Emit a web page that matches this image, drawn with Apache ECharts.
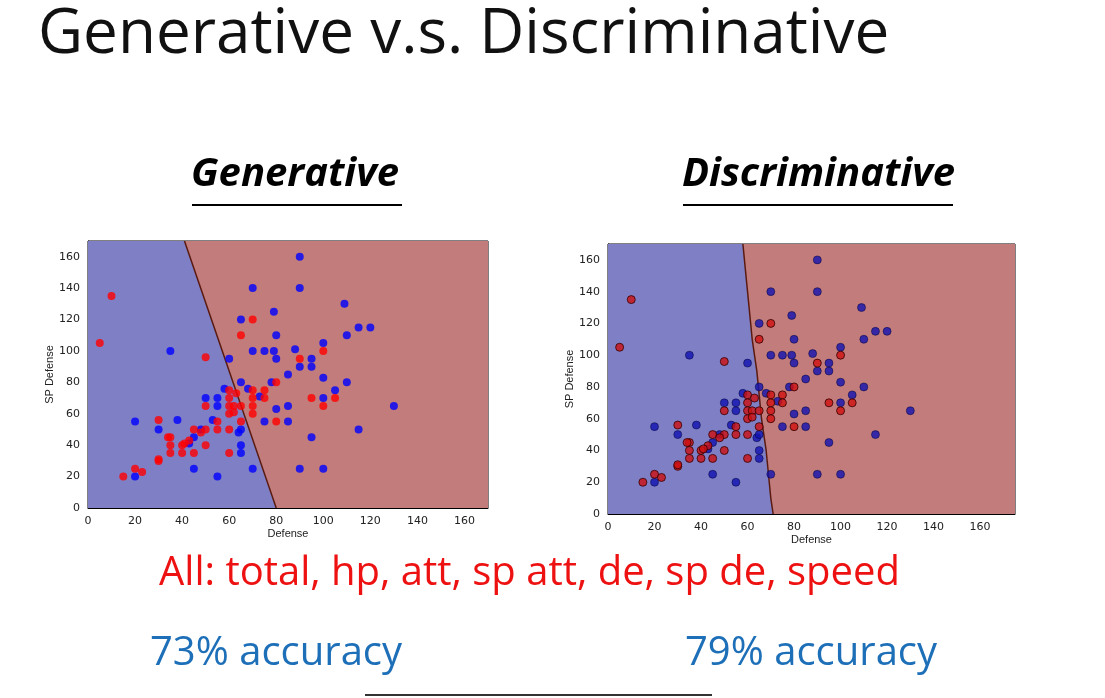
<!DOCTYPE html>
<html><head><meta charset="utf-8">
<script src="https://cdn.jsdelivr.net/npm/echarts@6/dist/echarts.min.js"></script>
<style>html,body{margin:0;background:#fff}#c{width:1105px;height:698px}</style>
</head><body><div id="c"></div>
<script>
// points [Defense, SP Defense]
var bluePts = [[90,160],[90,140],[70,140],[79,125],[65,120],[80,110],[109,130],[110,110],[115,115],[120,115],[100,105],[35,100],[70,100],[75,100],[79,100],[88,101],[80,95],[60,95],[90,90],[95,95],[95,90],[85,85],[100,83],[110,80],[105,75],[65,80],[78,80],[58,76],[68,76],[73,71],[50,70],[55,70],[100,70],[55,65],[85,65],[130,65],[80,63],[20,55],[38,56],[53,56],[75,55],[85,55],[30,50],[48,50],[64,48],[65,50],[115,50],[45,45],[43,41],[65,40],[95,45],[65,35],[45,25],[70,25],[90,25],[100,25],[20,20],[55,20]];
var redPts = [[10,135],[5,105],[65,110],[70,120],[50,96],[100,100],[90,95],[80,80],[60,75],[63,73],[70,75],[75,75],[75,70],[95,70],[105,70],[60,70],[70,70],[50,65],[60,65],[62,65],[65,65],[70,65],[100,65],[60,60],[62,61],[70,60],[30,56],[55,55],[65,55],[80,55],[55,50],[60,50],[45,50],[50,50],[48,48],[35,45],[34,45],[43,43],[40,40],[41,41],[35,40],[50,40],[35,35],[40,35],[45,35],[60,35],[30,30],[30,31],[20,25],[23,23],[15,20]];
// decision boundaries, from top (y=170) to bottom (y=0)
var genBoundary = [[41,170],[80,0]];
var disBoundary = [[58,170],[60,140],[62,110],[64,90],[65,75],[66,60],[67,50],[68,40],[69,25],[70,10],[71,0]];

function regions(boundary, xmax, gi) {
  var left = [[0,170]].concat(boundary).concat([[0,0]]);
  var right = boundary.slice().concat([[xmax,0],[xmax,170]]);
  function poly(pts, color) {
    return {type:'custom', xAxisIndex:gi, yAxisIndex:gi, silent:true, z:1,
      data:[0], renderItem:function(p, api){
        return {type:'polygon', shape:{points:pts.map(function(d){return api.coord(d);})},
          style:{fill:color}};
      }};
  }
  return [poly(left,'#7f7fc6'), poly(right,'#c27c7b'),
    {type:'line', xAxisIndex:gi, yAxisIndex:gi, data:boundary, symbol:'none', z:2,
     lineStyle:{color:'#5a1a10', width:1.5}}];
}
function axes(gi, xmax) {
  var lab = {fontSize:11, color:'#222', fontFamily:'DejaVu Sans', showMaxLabel:false};
  return {
    x:{gridIndex:gi, min:0, max:xmax, interval:20, name:'Defense', nameLocation:'middle', nameGap:20,
       nameTextStyle:{fontSize:11,color:'#222'}, axisLabel:lab, splitLine:{show:false},
       axisLine:{onZero:false,lineStyle:{color:'#000'}}, axisTick:{inside:true,lineStyle:{color:'#000'}}},
    y:{gridIndex:gi, min:0, max:170, interval:20, name:'SP Defense', nameLocation:'middle', nameGap:30,
       nameTextStyle:{fontSize:11,color:'#222'}, axisLabel:lab, splitLine:{show:false},
       axisLine:{lineStyle:{color:'#000'}}, axisTick:{inside:true,lineStyle:{color:'#000'}}}
  };
}
var a0 = axes(0,170), a1 = axes(1,175);
var chart = echarts.init(document.getElementById('c'));
chart.setOption({
  animation:false,
  grid:[{left:88, top:241, width:400, height:267, show:true, borderColor:'#000', borderWidth:1},
        {left:608, top:244, width:407, height:270, show:true, borderColor:'#000', borderWidth:1}],
  xAxis:[a0.x, a1.x], yAxis:[a0.y, a1.y],
  series: regions(genBoundary,170,0).concat(regions(disBoundary,175,1)).concat([
    {type:'scatter', xAxisIndex:0, yAxisIndex:0, data:bluePts, symbolSize:8, z:3, itemStyle:{color:'#0000ff'}},
    {type:'scatter', xAxisIndex:0, yAxisIndex:0, data:redPts, symbolSize:8, z:3, itemStyle:{color:'#ff0000'}},
    {type:'scatter', xAxisIndex:1, yAxisIndex:1, data:bluePts, symbolSize:8, z:3, itemStyle:{color:'#1212b0',borderColor:'#000033',borderWidth:0.6}},
    {type:'scatter', xAxisIndex:1, yAxisIndex:1, data:redPts, symbolSize:8, z:3, itemStyle:{color:'#d01010',borderColor:'#330000',borderWidth:1}}
  ]),
  graphic:[
    {type:'text', left:38, top:4, style:{text:'Generative v.s. Discriminative', font:'62px "Open Sans"', fill:'#111'}},
    {type:'text', left:191, top:155, style:{text:'Generative', font:'italic bold 40px "Open Sans"', fill:'#000'}},
    {type:'rect', shape:{x:192,y:204,width:210,height:2}, style:{fill:'#000'}},
    {type:'text', left:682, top:155, style:{text:'Discriminative', font:'italic bold 40px "Open Sans"', fill:'#000'}},
    {type:'rect', shape:{x:683,y:204,width:270,height:2}, style:{fill:'#000'}},
    {type:'text', left:159, top:554, style:{text:'All: total, hp, att, sp att, de, sp de, speed', font:'40px "Open Sans"', fill:'#ee1111'}},
    {type:'text', left:150, top:634, style:{text:'73% accuracy', font:'40px "Open Sans"', fill:'#1d6fb8'}},
    {type:'text', left:685, top:634, style:{text:'79% accuracy', font:'40px "Open Sans"', fill:'#1d6fb8'}},
    {type:'rect', shape:{x:365,y:694,width:347,height:2}, style:{fill:'#333'}}
  ]
});
</script></body></html>
